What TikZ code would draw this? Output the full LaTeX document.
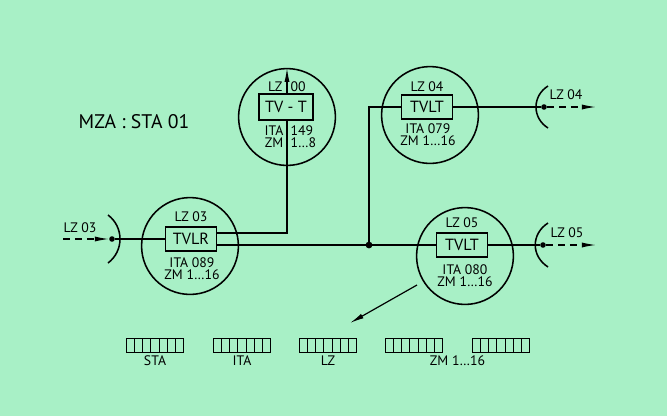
\documentclass[tikz,border=0pt]{standalone}
\usepackage{fontspec}
\setmainfont{PT Sans}
\usetikzlibrary{arrows.meta,calc}
\definecolor{mint}{RGB}{168,240,198}

\begin{document}
\begin{tikzpicture}[x=0.025cm,y=-0.025cm,>={Latex[length=10pt,width=3.6pt]},
	station/.style={circle,draw,line width=1.1pt,minimum size=2.42cm,inner sep=0pt},
	unit/.style={draw,line width=1.1pt,minimum width=1.28cm,minimum height=0.6cm,inner sep=0pt,font=\fontsize{11.5}{11.5}\selectfont},
	lbl/.style={inner sep=1pt,font=\fontsize{9.8}{9.8}\selectfont},
	wire/.style={line width=0.85pt},
	feed/.style={wire,dash pattern=on 5pt off 3.5pt,->},
	dot/.style={circle,fill,inner sep=1.4pt},
	reg/.style={draw,line width=0.7pt,minimum width=1.43cm,minimum height=0.35cm,inner sep=0pt}]
		\fill[mint] (0,0) rectangle (667,416);
		\node[font=\fontsize{14}{14}\selectfont] (title) at (134,122) {MZA : STA 01};
		% stations
		\node[station] (s03) at (190,246) {};
		\node[unit] (u03) at (191,239) {TVLR};
		\node[lbl] at (191,217) {LZ 03};
		\node[lbl] at (192,263) {ITA 089};
		\node[lbl] at (192,275) {ZM 1…16};
		\node[station] (s00) at (287,117) {};
		\node[unit,minimum width=1.35cm,minimum height=0.66cm] (u00) at (286,107) {TV - T};
		\node[lbl,anchor=east] at (284,87) {LZ};
		\node[lbl,anchor=west] at (289,87) {00};
		\node[lbl,anchor=east] at (285,131) {ITA};
		\node[lbl,anchor=west] at (289,131) {149};
		\node[lbl,anchor=east] at (285,143) {ZM};
		\node[lbl,anchor=west] at (289,143) {1…8};
		\node[station] (s04) at (430,115) {};
		\node[unit] (u04) at (427,107) {TVLT};
		\node[lbl] at (427,87) {LZ 04};
		\node[lbl] at (428,129) {ITA 079};
		\node[lbl] at (428,141) {ZM 1…16};
		\node[station] (s05) at (465,256) {};
		\node[unit] (u05) at (462,245) {TVLT};
		\node[lbl] at (462,223) {LZ 05};
		\node[lbl] at (465,270) {ITA 080};
		\node[lbl] at (465,282) {ZM 1…16};
		% wiring
		\coordinate (jn) at (369,245);
		\coordinate (up) at (287,233);
		\draw[wire] ($(u03.east)+(0,6)$) -- (jn) -- (u05.west);
		\draw[wire] (jn) |- (u04.west);
		\fill (jn) circle (2.4pt);
		\draw[wire] ($(u03.east)+(0,-6)$) -- (up) -- (up |- u00.south);
		\draw[wire,->] (u00.north -| up) -- (s00.north -| up);
		% links
		\node[dot] (d03) at (112,239) {};
		\coordinate (a03) at (63,239);
		\draw[feed] (a03) -- (d03.west);
		\draw[wire] (d03) -- (u03.west);
		\draw[line width=1.1pt] ($(d03)+(-4,-24)$) .. controls ($(d03)+(12,-12)$) and ($(d03)+(12,12)$) .. ($(d03)+(-4,24)$);
		\node[lbl] at (80,228) {LZ 03};
		\node[dot] (d04) at (544,107) {};
		\coordinate (a04) at (596,107);
		\draw[wire] (u04.east) -- (d04);
		\draw[feed] (d04.east) -- (a04);
		\draw[line width=1.1pt] ($(d04)+(4,-21)$) .. controls ($(d04)+(-12,-11)$) and ($(d04)+(-12,11)$) .. ($(d04)+(4,21)$);
		\node[lbl] at (566,95) {LZ 04};
		\node[dot] (d05) at (543,245) {};
		\coordinate (a05) at (596,245);
		\draw[wire] (u05.east) -- (d05);
		\draw[feed] (d05.east) -- (a05);
		\draw[line width=1.1pt] ($(d05)+(5,-22)$) .. controls ($(d05)+(-12,-11)$) and ($(d05)+(-12,11)$) .. ($(d05)+(5,22)$);
		\node[lbl] at (567,233) {LZ 05};
		% register
		\foreach \n/\x in {rSTA/155,rITA/242,rLZ/328,rZMa/414,rZMb/501}{
			\node[reg] (\n) at (\x,345) {};
			\foreach \i in {1,...,6}
				\draw[line width=0.7pt] ($(\n.south west)!\i/7!(\n.south east)$) -- ($(\n.north west)!\i/7!(\n.north east)$);
		}
		\node[lbl,below=1pt] at (rSTA.south) {STA};
		\node[lbl,below=1pt] at (rITA.south) {ITA};
		\node[lbl,below=1pt] at (rLZ.south) {LZ};
		\node[lbl,below=1pt] at ($(rZMa.south)!0.5!(rZMb.south)$) {ZM 1…16};
		\coordinate (t05) at (417,285);
		\coordinate (h05) at (350,323);
		\draw[wire,->] (t05) -- (h05);
	\end{tikzpicture}
\end{document}
